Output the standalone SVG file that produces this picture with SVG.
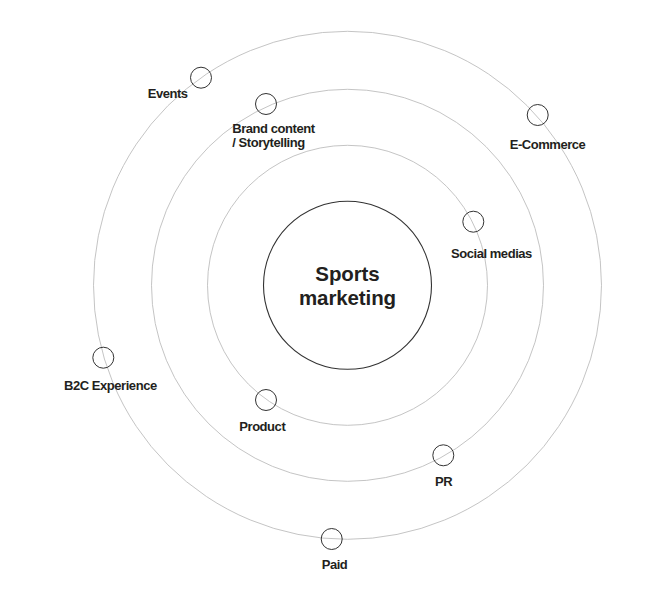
<svg xmlns="http://www.w3.org/2000/svg" width="672" height="600" viewBox="0 0 672 600">
<style>
.orbit{fill:none;stroke:#bdbdbd;stroke-width:0.9}
.core{fill:none;stroke:#333;stroke-width:1.1}
.dot{fill:none;stroke:#333;stroke-width:1}
.lbl{font-family:"Liberation Sans",Arial,sans-serif;font-weight:bold;font-size:13px;fill:#231f20;letter-spacing:-0.45px}
.title{font-family:"Liberation Sans",Arial,sans-serif;font-weight:bold;font-size:20.5px;fill:#231f20;letter-spacing:-0.1px;text-anchor:middle}
</style>
<rect width="672" height="600" fill="#fff"/>
<g id="orbits">
<circle class="orbit" cx="347.5" cy="285.3" r="140"/>
<circle class="orbit" cx="347.5" cy="285.3" r="196"/>
<circle class="orbit" cx="347.5" cy="285.3" r="254"/>
</g>
<g id="core">
<circle class="core" cx="347.5" cy="285.3" r="84"/>
<text class="title" x="347.5" y="281.3">Sports</text>
<text class="title" x="347.5" y="304.5">marketing</text>
</g>
<g id="events"><circle class="dot" cx="201" cy="77.7" r="10.5"/><text class="lbl" x="147.7" y="98.3">Events</text></g>
<g id="brand"><circle class="dot" cx="266" cy="104" r="10.5"/><text class="lbl"><tspan x="232.3" y="132.7">Brand content</tspan><tspan x="232.3" y="147.3">/ Storytelling</tspan></text></g>
<g id="ecommerce"><circle class="dot" cx="537.7" cy="115" r="10.5"/><text class="lbl" x="509.7" y="149.3">E-Commerce</text></g>
<g id="social"><circle class="dot" cx="473.3" cy="221.7" r="10.5"/><text class="lbl" x="451" y="258.3">Social medias</text></g>
<g id="b2c"><circle class="dot" cx="103.3" cy="357.7" r="10.5"/><text class="lbl" x="64" y="390">B2C Experience</text></g>
<g id="product"><circle class="dot" cx="266" cy="400" r="10.5"/><text class="lbl" x="239.3" y="431">Product</text></g>
<g id="pr"><circle class="dot" cx="443.3" cy="455.3" r="10.5"/><text class="lbl" x="435" y="486">PR</text></g>
<g id="paid"><circle class="dot" cx="331.7" cy="539" r="10.5"/><text class="lbl" x="321.7" y="569.3">Paid</text></g>
</svg>
